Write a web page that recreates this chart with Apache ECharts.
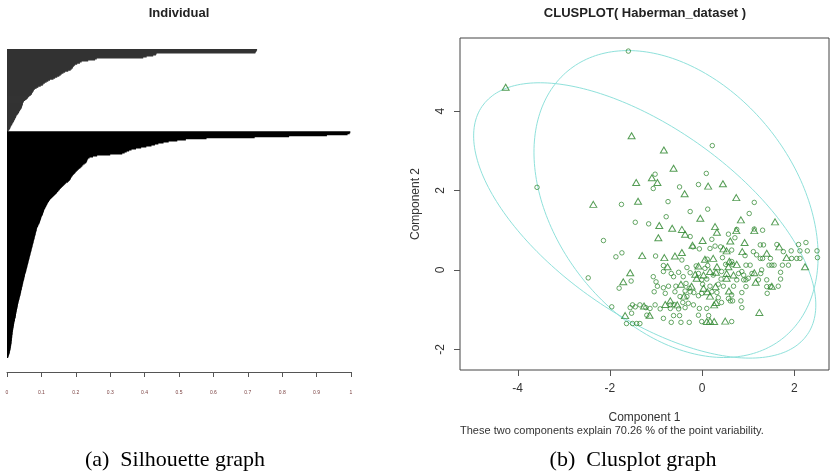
<!DOCTYPE html>
<html><head><meta charset="utf-8">
<script src="https://cdn.jsdelivr.net/npm/echarts@6/dist/echarts.min.js"></script>
<style>html,body{margin:0;padding:0;background:#fff}#c{width:830px;height:475px}</style>
</head><body><div id="c"></div>
<script>
// ---------- Silhouette widths (sorted within cluster) ----------
const silCluster1 = [0.727,0.726,0.724,0.722,0.435,0.433,0.425,0.406,0.396,0.261,0.256,0.236,0.217,0.212,0.204,0.198,0.195,0.192,0.191,0.188,0.185,0.178,0.169,0.164,0.159,0.156,0.152,0.146,0.140,0.135,0.125,0.120,0.115,0.110,0.106,0.104,0.098,0.091,0.086,0.081,0.078,0.077,0.075,0.073,0.072,0.069,0.065,0.062,0.060,0.057,0.053,0.049,0.048,0.046,0.046,0.045,0.044,0.043,0.042,0.040,0.038,0.036,0.035,0.033,0.031,0.028,0.027,0.026,0.024,0.023,0.021,0.020,0.018,0.016,0.015,0.013,0.011,0.010,0.009,0.007,0.005,0.003];
const silCluster2 = [0.998,0.996,0.990,0.930,0.820,0.720,0.580,0.520,0.495,0.470,0.455,0.440,0.430,0.420,0.405,0.390,0.375,0.362,0.355,0.348,0.342,0.335,0.300,0.262,0.250,0.240,0.236,0.234,0.233,0.232,0.230,0.226,0.222,0.219,0.216,0.213,0.209,0.206,0.203,0.200,0.198,0.195,0.192,0.190,0.188,0.186,0.185,0.183,0.180,0.177,0.172,0.169,0.166,0.163,0.160,0.157,0.154,0.152,0.149,0.146,0.144,0.141,0.138,0.135,0.132,0.129,0.126,0.124,0.122,0.120,0.118,0.117,0.115,0.114,0.112,0.111,0.109,0.108,0.107,0.106,0.105,0.104,0.103,0.101,0.100,0.099,0.098,0.097,0.096,0.095,0.094,0.092,0.091,0.090,0.088,0.087,0.086,0.086,0.085,0.084,0.083,0.083,0.082,0.081,0.080,0.080,0.079,0.078,0.077,0.077,0.076,0.075,0.074,0.074,0.073,0.072,0.071,0.071,0.070,0.069,0.068,0.068,0.067,0.066,0.065,0.065,0.064,0.063,0.062,0.062,0.061,0.060,0.059,0.059,0.058,0.057,0.056,0.056,0.055,0.054,0.053,0.052,0.052,0.051,0.050,0.050,0.049,0.048,0.047,0.047,0.046,0.045,0.045,0.044,0.043,0.043,0.042,0.041,0.041,0.040,0.039,0.039,0.038,0.037,0.036,0.036,0.035,0.034,0.033,0.033,0.032,0.031,0.031,0.030,0.030,0.029,0.028,0.028,0.027,0.027,0.026,0.026,0.025,0.025,0.024,0.023,0.023,0.022,0.021,0.021,0.020,0.020,0.019,0.019,0.018,0.018,0.017,0.017,0.016,0.016,0.016,0.015,0.015,0.015,0.014,0.014,0.014,0.013,0.013,0.013,0.012,0.012,0.011,0.011,0.010,0.010,0.009,0.008,0.008,0.007,0.006,0.005,0.004,0.003];
const silTicks = [0,0.1,0.2,0.3,0.4,0.5,0.6,0.7,0.8,0.9,1];

// ---------- Clusplot points (Component 1, Component 2) ----------
const circlePts = [[-1.60,5.51],[0.22,3.13],[0.09,2.43],[-1.02,2.41],[-1.06,2.05],[-0.49,2.09],[-0.08,2.15],[1.13,1.70],[-1.75,1.65],[-0.74,1.72],[-0.26,1.47],[0.12,1.53],[1.02,1.42],[-0.78,1.34],[-1.45,1.20],[-1.16,1.16],[0.75,1.02],[1.13,1.03],[1.31,1.00],
[-3.58,2.08],[-2.14,0.74],[-1.87,0.33],[-1.74,0.43],[-1.01,0.35],[-0.44,0.25],[-0.06,0.53],[0.21,0.77],[0.28,0.60],[0.57,0.90],[-0.26,0.84],
[0.71,0.81],[1.26,0.63],[1.33,0.63],[1.62,0.64],[2.09,0.64],[2.25,0.69],[-0.20,0.58],
[0.17,0.54],[0.40,0.58],[0.64,0.50],[0.93,0.36],[1.11,0.46],[1.18,0.38],[1.26,0.29],[1.31,0.29],[1.48,0.29],[1.76,0.46],[1.93,0.48],[2.12,0.48],[2.28,0.48],[2.49,0.48],[2.50,0.31],[1.94,0.29],[2.05,0.29],[2.12,0.29],[0.11,0.27],[0.64,0.21],[0.44,0.31],
[-0.84,0.11],[-0.33,0.06],[-0.13,0.10],[0.06,0.04],[0.12,0.11],[0.51,0.14],[0.66,0.14],[0.95,0.12],[1.04,0.12],[1.29,0.00],[1.45,0.12],[1.51,0.12],[1.56,0.12],[1.74,0.12],[1.87,0.12],
[-1.06,-0.17],[-0.84,-0.04],[-0.67,-0.09],[-0.62,-0.17],[-0.51,-0.06],[-0.41,-0.17],[-0.26,-0.07],[-0.08,-0.09],[0.24,-0.13],[0.42,-0.04],[0.79,-0.09],[0.86,-0.04],[0.90,-0.13],[1.00,-0.21],[1.08,-0.09],[1.27,-0.09],[1.70,-0.06],
[-1.54,-0.28],[-1.00,-0.30],[-0.01,-0.25],[0.10,-0.23],[0.41,-0.23],[0.75,-0.25],[0.90,-0.25],[0.95,-0.25],[1.22,-0.25],[1.40,-0.25],[1.70,-0.23],[-2.47,-0.20],
[-1.80,-0.46],[-0.97,-0.41],[-0.84,-0.45],[-0.73,-0.41],[-0.57,-0.41],[-0.35,-0.34],[-0.28,-0.46],[0.01,-0.36],[0.17,-0.41],[0.35,-0.36],[0.46,-0.41],[0.68,-0.41],[0.95,-0.42],[1.40,-0.42],[1.48,-0.42],[1.65,-0.41],[1.41,-0.59],
[-0.37,-0.53],[-0.26,-0.55],[-0.18,-0.57],[-0.01,-0.59],[0.21,-0.55],[0.32,-0.57],[0.64,-0.63],[0.86,-0.57],[-0.80,-0.59],[-0.59,-0.55],[-1.04,-0.55],[-0.48,-0.67],[-0.33,-0.67],[-0.08,-0.65],[0.35,-0.70],[0.57,-0.72],[0.61,-0.78],[0.66,-0.78],[0.84,-0.78],
[-1.96,-0.93],[-1.51,-0.88],[-1.45,-0.93],[-1.56,-0.95],[-1.35,-0.88],[-1.22,-0.95],[-1.13,-0.97],[-1.02,-0.88],[-0.69,-0.88],[-0.61,-0.87],[-0.42,-0.82],[-0.30,-0.84],[-0.19,-0.88],[0.42,-0.82],[-0.91,-0.98],[-0.69,-0.97],[-0.51,-0.98],[-0.37,-0.95],[-0.06,-0.97],[0.10,-0.97],[0.86,-0.95],
[-1.53,-1.09],[-1.20,-1.14],[-0.84,-1.22],[-0.62,-1.15],[-0.49,-1.15],[-0.08,-1.14],[0.14,-1.15],[-0.01,-1.30],[0.64,-1.30],[-0.67,-1.32],[-0.46,-1.32],[-0.28,-1.32],[-1.64,-1.35],[-1.51,-1.35],[-1.42,-1.35],[-1.35,-1.35]];
const trianglePts = [[-1.53,3.38],[-0.83,3.02],[-0.62,2.56],[-1.09,2.32],[-0.97,2.20],[-1.43,2.20],[0.13,2.11],[0.45,2.17],[-0.38,1.92],[0.74,1.82],[-2.36,1.65],[-1.39,1.73],[-0.04,1.30],[0.84,1.26],[1.58,1.21],[-0.93,1.12],[-0.65,1.05],[-0.44,1.02],[0.28,1.09],[0.32,0.95],
[-4.26,4.60],
[-1.30,0.36],[-0.82,0.31],[-0.59,0.35],[-0.44,0.44],[-0.21,0.62],[0.01,0.74],[0.74,0.99],[1.13,0.99],[0.92,0.69],[-0.95,0.81],[-0.37,0.90],
[0.61,0.73],[1.67,0.58],[0.46,0.53],[0.53,0.48],[0.87,0.46],[1.40,0.42],[1.83,0.31],[0.06,0.27],[0.24,0.29],[0.59,0.22],
[-0.75,0.08],[-0.08,0.10],[0.32,0.08],[0.57,0.08],[0.75,0.14],[2.23,0.08],[-1.56,-0.07],[-0.15,-0.11],[0.03,-0.13],[0.17,-0.04],[0.30,-0.06],[0.53,-0.09],[0.68,-0.13],[1.13,-0.07],[-1.71,-0.30],[-0.12,-0.21],[0.53,-0.21],[1.16,-0.31],
[-0.46,-0.36],[-0.23,-0.41],[0.03,-0.46],[0.29,-0.42],[1.51,-0.41],[0.11,-0.55],[0.58,-0.53],[-0.39,-0.66],[0.17,-0.66],
[-1.26,-0.91],[-0.80,-0.87],[-0.69,-0.78],[-0.54,-0.88],[0.30,-0.82],[0.26,-0.88],[-1.67,-1.15],[-1.14,-1.14],[0.10,-1.30],[0.17,-1.29],[0.26,-1.30],[0.50,-1.29],[1.24,-1.07]];

// ---------- Cluster ellipses: centre and covariance [sxx, syy, sxy] ----------
const ellipseCircleCenter = [-0.566, 1.659];
const ellipseCircleCov = [9.488, 14.934, -4.024];
const ellipseTriCenter = [-1.245, 1.246];
const ellipseTriCov = [13.759, 12.018, -7.896];
const clusTicksX = [-4, -2, 0, 2];
const clusTicksY = [-2, 0, 2, 4];
const clusRangeX = [-5.25, 2.75];
const clusRangeY = [-2.52, 5.84];

function ellipsePath(c, S, n) {
  const l11 = Math.sqrt(S[0]), l21 = S[2] / l11, l22 = Math.sqrt(S[1] - l21 * l21);
  const pts = [];
  for (let i = 0; i <= n; i++) {
    const t = 2 * Math.PI * i / n;
    pts.push([c[0] + l11 * Math.cos(t), c[1] + l21 * Math.cos(t) + l22 * Math.sin(t)]);
  }
  return pts;
}

const nObs = silCluster1.length + silCluster2.length;
const cats = Array.from({length: nObs}, (_, i) => String(i + 1));
const s1 = silCluster1.concat(silCluster2.map(() => '-'));
const s2 = silCluster1.map(() => '-').concat(silCluster2);

const FONT = '"Liberation Sans", Arial, sans-serif';
const green = '#2b842b';
const cyan = '#8fe1db';
const axisGrey = '#555';
const tickLen = 6;

// R-style outward tick marks on the clusplot frame, placed through the axes' scales
function tickRenderer(dir) {
  return function (params, api) {
    const p = api.coord([api.value(0), api.value(1)]);
    if (dir === 'x') {
      const x = Math.round(p[0]) + 0.5;
      return {type: 'line', shape: {x1: x, y1: p[1], x2: x, y2: p[1] + tickLen}, style: {stroke: axisGrey, lineWidth: 1}};
    }
    const y = Math.round(p[1]) + 0.5;
    return {type: 'line', shape: {x1: p[0] - tickLen, y1: y, x2: p[0], y2: y}, style: {stroke: axisGrey, lineWidth: 1}};
  };
}

const chart = echarts.init(document.getElementById('c'), null, {renderer: 'canvas'});
chart.setOption({
  animation: false,
  backgroundColor: '#fff',
  grid: [
    {left: 7, width: 344, top: 49, height: 309, show: false},
    {left: 460, top: 38, width: 369, height: 332, show: true, borderColor: '#444', borderWidth: 1, backgroundColor: 'transparent'}
  ],
  xAxis: [
    {gridIndex: 0, type: 'value', min: 0, max: 1, interval: 0.1, position: 'bottom', offset: 14,
     axisLine: {show: true, onZero: false, lineStyle: {color: axisGrey, width: 1}},
     axisTick: {show: true, length: 5, lineStyle: {color: axisGrey}},
     axisLabel: {fontSize: 5, color: '#7a4040', margin: 18, fontFamily: FONT},
     splitLine: {show: false}},
    {gridIndex: 1, type: 'value', min: clusRangeX[0], max: clusRangeX[1], position: 'bottom',
     axisLine: {show: false, onZero: false}, axisTick: {show: false},
     axisLabel: {customValues: clusTicksX, fontSize: 12, color: '#333', margin: 13, fontFamily: FONT},
     splitLine: {show: false},
     name: 'Component 1', nameLocation: 'middle', nameGap: 42,
     nameTextStyle: {fontSize: 12, color: '#333', fontFamily: FONT}}
  ],
  yAxis: [
    {gridIndex: 0, type: 'category', data: cats, inverse: true, show: false},
    {gridIndex: 1, type: 'value', min: clusRangeY[0], max: clusRangeY[1], position: 'left',
     axisLine: {show: false, onZero: false}, axisTick: {show: false},
     axisLabel: {customValues: clusTicksY, rotate: 90, fontSize: 12, color: '#333', margin: 13, fontFamily: FONT},
     splitLine: {show: false},
     name: 'Component 2', nameLocation: 'middle', nameGap: 38, nameRotate: 90,
     nameTextStyle: {fontSize: 12, color: '#333', fontFamily: FONT}}
  ],
  series: [
    {type: 'bar', xAxisIndex: 0, yAxisIndex: 0, data: s1, barGap: '-100%', barWidth: 2,
     itemStyle: {color: '#333333'}, silent: true},
    {type: 'bar', xAxisIndex: 0, yAxisIndex: 0, data: s2, barGap: '-100%', barWidth: 2,
     itemStyle: {color: '#000000'}, silent: true},
    {type: 'line', xAxisIndex: 1, yAxisIndex: 1, data: ellipsePath(ellipseCircleCenter, ellipseCircleCov, 240),
     showSymbol: false, smooth: false, lineStyle: {color: cyan, width: 1}, silent: true, z: 1},
    {type: 'line', xAxisIndex: 1, yAxisIndex: 1, data: ellipsePath(ellipseTriCenter, ellipseTriCov, 240),
     showSymbol: false, smooth: false, lineStyle: {color: cyan, width: 1}, silent: true, z: 1},
    {type: 'scatter', xAxisIndex: 1, yAxisIndex: 1, data: circlePts, symbol: 'circle', symbolSize: 4.5,
     itemStyle: {color: 'rgba(0,0,0,0)', borderColor: green, borderWidth: 0.9}, silent: true, z: 3},
    {type: 'scatter', xAxisIndex: 1, yAxisIndex: 1, data: trianglePts, symbol: 'triangle', symbolSize: [7, 6],
     itemStyle: {color: 'rgba(0,0,0,0)', borderColor: green, borderWidth: 1}, silent: true, z: 3},
    {type: 'custom', xAxisIndex: 1, yAxisIndex: 1, clip: false, silent: true, z: 5,
     data: clusTicksX.map(v => [v, clusRangeY[0]]), encode: {x: 0, y: 1}, renderItem: tickRenderer('x')},
    {type: 'custom', xAxisIndex: 1, yAxisIndex: 1, clip: false, silent: true, z: 5,
     data: clusTicksY.map(v => [clusRangeX[0], v]), encode: {x: 0, y: 1}, renderItem: tickRenderer('y')}
  ],
  graphic: [
    {type: 'text', x: 179, y: 13, style: {text: 'Individual', font: 'bold 13px ' + FONT, fill: '#222', align: 'center', verticalAlign: 'middle'}},
    {type: 'text', x: 645, y: 13, style: {text: 'CLUSPLOT( Haberman_dataset )', font: 'bold 13px ' + FONT, fill: '#222', align: 'center', verticalAlign: 'middle'}},
    {type: 'text', x: 460, y: 431, style: {text: 'These two components explain 70.26 % of the point variability.', font: '11px ' + FONT, fill: '#333', align: 'left', verticalAlign: 'middle'}},
    {type: 'text', x: 175, y: 460, style: {text: '(a)  Silhouette graph', font: '22px "Liberation Serif", "Times New Roman", serif', fill: '#000', align: 'center', verticalAlign: 'middle'}},
    {type: 'text', x: 633, y: 460, style: {text: '(b)  Clusplot graph', font: '22px "Liberation Serif", "Times New Roman", serif', fill: '#000', align: 'center', verticalAlign: 'middle'}}
  ]
});
</script>
</body></html>
